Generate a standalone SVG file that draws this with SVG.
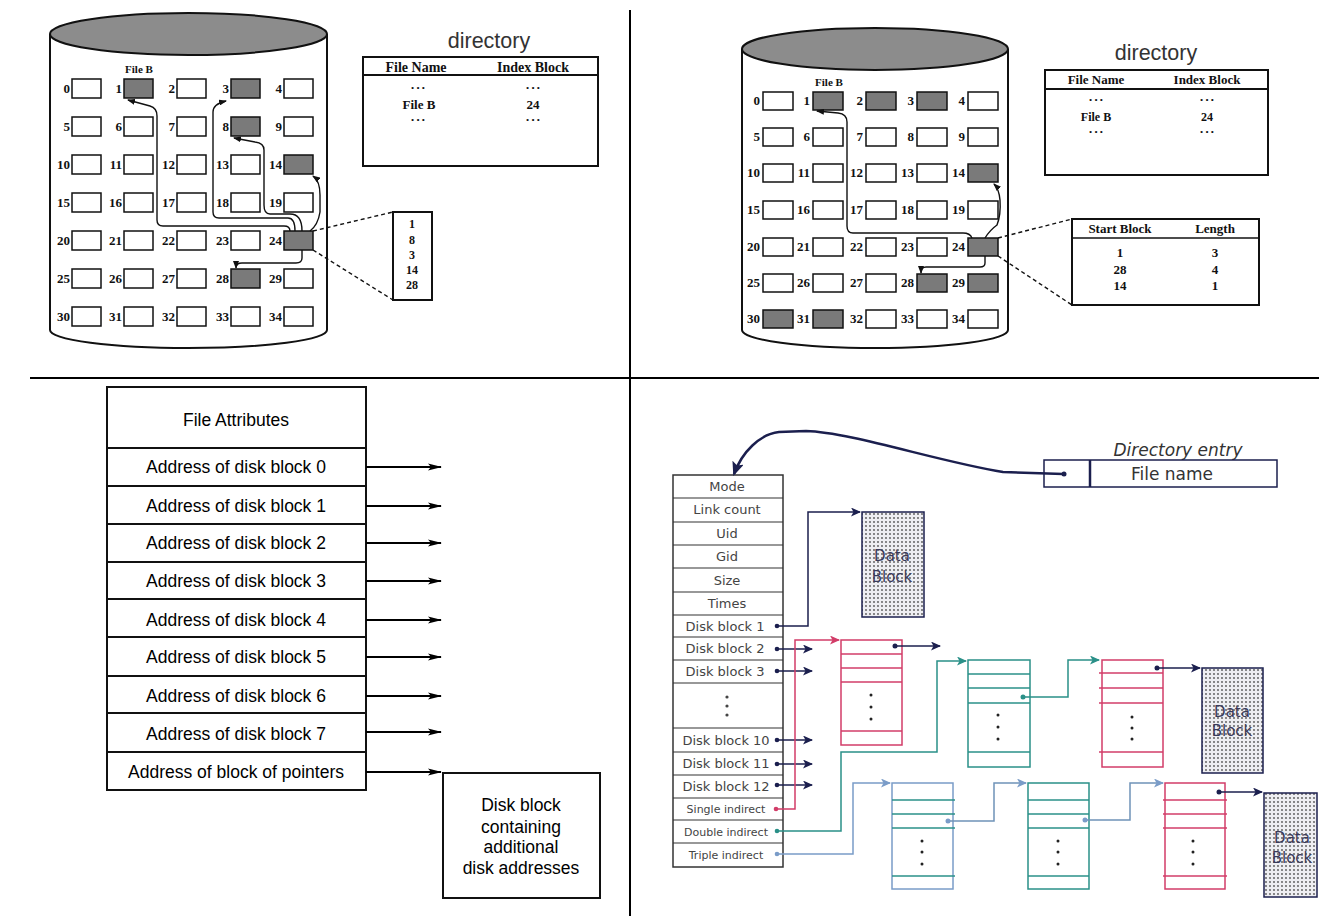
<svg xmlns="http://www.w3.org/2000/svg" width="1319" height="916" viewBox="0 0 1319 916">
<style>
.blk{fill:#fff;stroke:#111;stroke-width:1.5}
.f{fill:#7a7a7a}
.num{font-family:"Liberation Serif",serif;font-weight:bold;font-size:13px;text-anchor:end;fill:#111}
.tb{font-family:"Liberation Serif",serif;font-weight:bold;font-size:14px;text-anchor:middle;fill:#111}
.dots{font-family:"Liberation Serif",serif;font-size:9px;text-anchor:middle;fill:#111}
.dir{font-family:"Liberation Sans",sans-serif;font-size:21.5px;text-anchor:middle;fill:#333}
.ln{fill:none;stroke:#111;stroke-width:1.4}
.dash{fill:none;stroke:#111;stroke-width:1.4;stroke-dasharray:4 3}
.frame{fill:none;stroke:#111;stroke-width:2}
.bl{font-family:"Liberation Sans",sans-serif;font-size:17.5px;text-anchor:middle;fill:#000}
.in{font-family:"DejaVu Sans",sans-serif;font-size:13px;text-anchor:middle;fill:#444}
.ins{font-family:"DejaVu Sans",sans-serif;font-size:11px;text-anchor:middle;fill:#444}
.dt{font-family:"DejaVu Sans",sans-serif;font-size:15px;text-anchor:middle;fill:#3a3a5a}
.nv{fill:none;stroke:#1b1f4e;stroke-width:1.5}
.rd{fill:none;stroke:#d23c68;stroke-width:1.5}
.tl{fill:none;stroke:#2a9088;stroke-width:1.5}
.lb{fill:none;stroke:#7a9cc8;stroke-width:1.5}
.lbt{fill:none;stroke:#6f93b8;stroke-width:1.5}
</style>
<defs>
<marker id="ab" markerUnits="userSpaceOnUse" markerWidth="8" markerHeight="6" refX="7" refY="3" orient="auto"><path d="M0,0 L8,3 L0,6 z" fill="#111"/></marker>
<marker id="abl" markerUnits="userSpaceOnUse" markerWidth="14" markerHeight="8" refX="13" refY="4" orient="auto"><path d="M0,0.5 L14,4 L0,7.5 L3,4 z" fill="#000"/></marker>
<marker id="anv" markerUnits="userSpaceOnUse" markerWidth="10" markerHeight="9" refX="9" refY="4.5" orient="auto"><path d="M0,0 L10,4.5 L0,9 L2.5,4.5 z" fill="#1b1f4e"/></marker>
<marker id="anvb" markerUnits="userSpaceOnUse" markerWidth="14" markerHeight="12" refX="12" refY="6" orient="auto"><path d="M0,0 L14,6 L0,12 L3,6 z" fill="#1b1f4e"/></marker>
<marker id="ard" markerUnits="userSpaceOnUse" markerWidth="10" markerHeight="9" refX="9" refY="4.5" orient="auto"><path d="M0,0 L10,4.5 L0,9 L2.5,4.5 z" fill="#d23c68"/></marker>
<marker id="atl" markerUnits="userSpaceOnUse" markerWidth="10" markerHeight="9" refX="9" refY="4.5" orient="auto"><path d="M0,0 L10,4.5 L0,9 L2.5,4.5 z" fill="#2a9088"/></marker>
<marker id="alb" markerUnits="userSpaceOnUse" markerWidth="10" markerHeight="9" refX="9" refY="4.5" orient="auto"><path d="M0,0 L10,4.5 L0,9 L2.5,4.5 z" fill="#7a9cc8"/></marker>
<pattern id="dotp" width="4" height="4" patternUnits="userSpaceOnUse"><rect width="4" height="4" fill="#eeeef2"/><circle cx="2" cy="2" r="0.9" fill="#555"/></pattern>
</defs>

<g id="dividers">
<line x1="630" y1="10" x2="630" y2="916" stroke="#000" stroke-width="2"/>
<line x1="30" y1="378" x2="1319" y2="378" stroke="#000" stroke-width="2"/>
</g>

<!-- TOP LEFT: indexed allocation -->
<g id="disk1">
<path d="M50,34 L50,330 A138.5,18 0 0 0 327,330 L327,34" fill="#fff" stroke="#111" stroke-width="2"/>
<ellipse cx="188.5" cy="34" rx="138.5" ry="21" fill="#8c8c8c" stroke="#111" stroke-width="2"/>
<text x="139" y="73" style="font-family:'Liberation Serif',serif;font-weight:bold;font-size:11px;text-anchor:middle;fill:#111">File B</text>
<g>
<rect class="blk" x="72" y="79" width="29" height="19"/><rect class="blk f" x="124" y="79" width="29" height="19"/><rect class="blk" x="177" y="79" width="29" height="19"/><rect class="blk f" x="231" y="79" width="29" height="19"/><rect class="blk" x="284" y="79" width="29" height="19"/>
<rect class="blk" x="72" y="117" width="29" height="19"/><rect class="blk" x="124" y="117" width="29" height="19"/><rect class="blk" x="177" y="117" width="29" height="19"/><rect class="blk f" x="231" y="117" width="29" height="19"/><rect class="blk" x="284" y="117" width="29" height="19"/>
<rect class="blk" x="72" y="155" width="29" height="19"/><rect class="blk" x="124" y="155" width="29" height="19"/><rect class="blk" x="177" y="155" width="29" height="19"/><rect class="blk" x="231" y="155" width="29" height="19"/><rect class="blk f" x="284" y="155" width="29" height="19"/>
<rect class="blk" x="72" y="193" width="29" height="19"/><rect class="blk" x="124" y="193" width="29" height="19"/><rect class="blk" x="177" y="193" width="29" height="19"/><rect class="blk" x="231" y="193" width="29" height="19"/><rect class="blk" x="284" y="193" width="29" height="19"/>
<rect class="blk" x="72" y="231" width="29" height="19"/><rect class="blk" x="124" y="231" width="29" height="19"/><rect class="blk" x="177" y="231" width="29" height="19"/><rect class="blk" x="231" y="231" width="29" height="19"/><rect class="blk f" x="284" y="231" width="29" height="19"/>
<rect class="blk" x="72" y="269" width="29" height="19"/><rect class="blk" x="124" y="269" width="29" height="19"/><rect class="blk" x="177" y="269" width="29" height="19"/><rect class="blk f" x="231" y="269" width="29" height="19"/><rect class="blk" x="284" y="269" width="29" height="19"/>
<rect class="blk" x="72" y="307" width="29" height="19"/><rect class="blk" x="124" y="307" width="29" height="19"/><rect class="blk" x="177" y="307" width="29" height="19"/><rect class="blk" x="231" y="307" width="29" height="19"/><rect class="blk" x="284" y="307" width="29" height="19"/>
</g>
<g class="num">
<text x="70" y="93">0</text><text x="122" y="93">1</text><text x="175" y="93">2</text><text x="229" y="93">3</text><text x="282" y="93">4</text>
<text x="70" y="131">5</text><text x="122" y="131">6</text><text x="175" y="131">7</text><text x="229" y="131">8</text><text x="282" y="131">9</text>
<text x="70" y="169">10</text><text x="122" y="169">11</text><text x="175" y="169">12</text><text x="229" y="169">13</text><text x="282" y="169">14</text>
<text x="70" y="207">15</text><text x="122" y="207">16</text><text x="175" y="207">17</text><text x="229" y="207">18</text><text x="282" y="207">19</text>
<text x="70" y="245">20</text><text x="122" y="245">21</text><text x="175" y="245">22</text><text x="229" y="245">23</text><text x="282" y="245">24</text>
<text x="70" y="283">25</text><text x="122" y="283">26</text><text x="175" y="283">27</text><text x="229" y="283">28</text><text x="282" y="283">29</text>
<text x="70" y="321">30</text><text x="122" y="321">31</text><text x="175" y="321">32</text><text x="229" y="321">33</text><text x="282" y="321">34</text>
</g>
</g>
<g id="dir1">
<text class="dir" x="489" y="48">directory</text>
<rect class="frame" x="363" y="57" width="235" height="109"/>
<line x1="363" y1="75" x2="598" y2="75" stroke="#111" stroke-width="2"/>
<text class="tb" x="416" y="72">File Name</text><text class="tb" x="533" y="72">Index Block</text>
<text class="dots" x="418" y="91">• • •</text><text class="dots" x="533" y="91">• • •</text>
<text class="tb" x="419" y="109" style="font-size:13px">File B</text><text class="tb" x="533" y="109" style="font-size:13px">24</text>
<text class="dots" x="418" y="123">• • •</text><text class="dots" x="533" y="123">• • •</text>
</g>
<g id="index1">
<rect class="frame" x="393" y="212" width="39" height="88" stroke-width="1.5"/>
<g class="tb" style="font-size:12px">
<text x="412" y="228">1</text><text x="412" y="244">8</text><text x="412" y="259">3</text><text x="412" y="274">14</text><text x="412" y="289">28</text>
</g>
</g>
<g id="conn1">
<path class="ln" marker-end="url(#ab)" d="M290,231 Q290,226 284,226 L163,226 Q157,226 157,220 L157,116 Q157,108 150,106 L128,100"/>
<path class="ln" marker-end="url(#ab)" d="M295,231 Q295,218 288,218 L219,218 Q213,218 213,212 L213,112 Q213,104 226,101"/>
<path class="ln" marker-end="url(#ab)" d="M302,231 Q302,214 290,214 L270,214 Q264,214 264,205 L264,150 Q264,143 255,142 L234,138"/>
<path class="ln" marker-end="url(#ab)" d="M310,231 Q318,225 320,212 L320,195 Q320,181 313,176"/>
<path class="ln" marker-end="url(#ab)" d="M302,250 L302,258 Q302,263 296,263 L242,263 Q236,263 236,268"/>
<path class="dash" d="M313,231 L393,212"/>
<path class="dash" d="M313,250 L393,300"/>
</g>

<!-- TOP RIGHT: contiguous / extents -->
<g id="disk2">
<path d="M742,49 L742,330 A133,18 0 0 0 1008,330 L1008,49" fill="#fff" stroke="#111" stroke-width="2"/>
<ellipse cx="875" cy="49" rx="133" ry="21" fill="#8c8c8c" stroke="#111" stroke-width="2"/>
<text x="829" y="86" style="font-family:'Liberation Serif',serif;font-weight:bold;font-size:11px;text-anchor:middle;fill:#111">File B</text>
<g>
<rect class="blk" x="763" y="92" width="30" height="18"/><rect class="blk f" x="813" y="92" width="30" height="18"/><rect class="blk f" x="866" y="92" width="30" height="18"/><rect class="blk f" x="917" y="92" width="30" height="18"/><rect class="blk" x="968" y="92" width="30" height="18"/>
<rect class="blk" x="763" y="128" width="30" height="18"/><rect class="blk" x="813" y="128" width="30" height="18"/><rect class="blk" x="866" y="128" width="30" height="18"/><rect class="blk" x="917" y="128" width="30" height="18"/><rect class="blk" x="968" y="128" width="30" height="18"/>
<rect class="blk" x="763" y="164" width="30" height="18"/><rect class="blk" x="813" y="164" width="30" height="18"/><rect class="blk" x="866" y="164" width="30" height="18"/><rect class="blk" x="917" y="164" width="30" height="18"/><rect class="blk f" x="968" y="164" width="30" height="18"/>
<rect class="blk" x="763" y="201" width="30" height="18"/><rect class="blk" x="813" y="201" width="30" height="18"/><rect class="blk" x="866" y="201" width="30" height="18"/><rect class="blk" x="917" y="201" width="30" height="18"/><rect class="blk" x="968" y="201" width="30" height="18"/>
<rect class="blk" x="763" y="238" width="30" height="18"/><rect class="blk" x="813" y="238" width="30" height="18"/><rect class="blk" x="866" y="238" width="30" height="18"/><rect class="blk" x="917" y="238" width="30" height="18"/><rect class="blk f" x="968" y="238" width="30" height="18"/>
<rect class="blk" x="763" y="274" width="30" height="18"/><rect class="blk" x="813" y="274" width="30" height="18"/><rect class="blk" x="866" y="274" width="30" height="18"/><rect class="blk f" x="917" y="274" width="30" height="18"/><rect class="blk f" x="968" y="274" width="30" height="18"/>
<rect class="blk f" x="763" y="310" width="30" height="18"/><rect class="blk f" x="813" y="310" width="30" height="18"/><rect class="blk" x="866" y="310" width="30" height="18"/><rect class="blk" x="917" y="310" width="30" height="18"/><rect class="blk" x="968" y="310" width="30" height="18"/>
</g>
<g class="num">
<text x="760" y="105">0</text><text x="810" y="105">1</text><text x="863" y="105">2</text><text x="914" y="105">3</text><text x="965" y="105">4</text>
<text x="760" y="141">5</text><text x="810" y="141">6</text><text x="863" y="141">7</text><text x="914" y="141">8</text><text x="965" y="141">9</text>
<text x="760" y="177">10</text><text x="810" y="177">11</text><text x="863" y="177">12</text><text x="914" y="177">13</text><text x="965" y="177">14</text>
<text x="760" y="214">15</text><text x="810" y="214">16</text><text x="863" y="214">17</text><text x="914" y="214">18</text><text x="965" y="214">19</text>
<text x="760" y="251">20</text><text x="810" y="251">21</text><text x="863" y="251">22</text><text x="914" y="251">23</text><text x="965" y="251">24</text>
<text x="760" y="287">25</text><text x="810" y="287">26</text><text x="863" y="287">27</text><text x="914" y="287">28</text><text x="965" y="287">29</text>
<text x="760" y="323">30</text><text x="810" y="323">31</text><text x="863" y="323">32</text><text x="914" y="323">33</text><text x="965" y="323">34</text>
</g>
</g>
<g id="dir2">
<text class="dir" x="1156" y="60">directory</text>
<rect class="frame" x="1045" y="70" width="223" height="105"/>
<line x1="1045" y1="89" x2="1268" y2="89" stroke="#111" stroke-width="2"/>
<text class="tb" x="1096" y="84" style="font-size:13px">File Name</text><text class="tb" x="1207" y="84" style="font-size:13px">Index Block</text>
<text class="dots" x="1096" y="103">• • •</text><text class="dots" x="1207" y="103">• • •</text>
<text class="tb" x="1096" y="121" style="font-size:12px">File B</text><text class="tb" x="1207" y="121" style="font-size:12px">24</text>
<text class="dots" x="1096" y="135">• • •</text><text class="dots" x="1207" y="135">• • •</text>
</g>
<g id="extents">
<rect class="frame" x="1072" y="219" width="187" height="86"/>
<line x1="1072" y1="238" x2="1259" y2="238" stroke="#111" stroke-width="1.5"/>
<g class="tb" style="font-size:13px">
<text x="1120" y="233">Start Block</text><text x="1215" y="233">Length</text>
<text x="1120" y="257">1</text><text x="1215" y="257">3</text>
<text x="1120" y="274">28</text><text x="1215" y="274">4</text>
<text x="1120" y="290">14</text><text x="1215" y="290">1</text>
</g>
</g>
<g id="conn2">
<path class="ln" marker-end="url(#ab)" d="M972,238 Q970,233 963,233 L853,233 Q847,233 847,226 L847,122 Q847,114 838,113 L817,111"/>
<path class="ln" marker-end="url(#ab)" d="M985,238 Q990,230 997,225 Q1001,215 1000,200 Q999,189 994,184"/>
<path class="ln" marker-end="url(#ab)" d="M985,256 L985,263 Q985,267 980,267 L926,267 Q921,267 921,273"/>
<path class="dash" d="M998,238 L1072,219"/>
<path class="dash" d="M998,256 L1072,305"/>
</g>

<!-- BOTTOM LEFT: i-node with pointers -->
<g id="inode1">
<rect x="107" y="387" width="259" height="403" fill="#fff" stroke="#111" stroke-width="2"/>
<g stroke="#111" stroke-width="2">
<line x1="107" y1="448" x2="366" y2="448"/><line x1="107" y1="486" x2="366" y2="486"/><line x1="107" y1="524" x2="366" y2="524"/><line x1="107" y1="562" x2="366" y2="562"/><line x1="107" y1="599" x2="366" y2="599"/><line x1="107" y1="637" x2="366" y2="637"/><line x1="107" y1="676" x2="366" y2="676"/><line x1="107" y1="713" x2="366" y2="713"/><line x1="107" y1="752" x2="366" y2="752"/>
</g>
<g class="bl">
<text x="236" y="426">File Attributes</text>
<text x="236" y="473">Address of disk block 0</text>
<text x="236" y="512">Address of disk block 1</text>
<text x="236" y="549">Address of disk block 2</text>
<text x="236" y="587">Address of disk block 3</text>
<text x="236" y="626">Address of disk block 4</text>
<text x="236" y="663">Address of disk block 5</text>
<text x="236" y="702">Address of disk block 6</text>
<text x="236" y="740">Address of disk block 7</text>
<text x="236" y="778">Address of block of pointers</text>
</g>
</g>
<g id="ptrblock">
<rect x="443" y="773" width="157" height="125" fill="#fff" stroke="#111" stroke-width="2"/>
<g class="bl">
<text x="521" y="811">Disk block</text>
<text x="521" y="833">containing</text>
<text x="521" y="853">additional</text>
<text x="521" y="874">disk addresses</text>
</g>
</g>
<g id="conn3" stroke="#000" stroke-width="1.8" fill="none">
<line x1="366" y1="467" x2="441" y2="467" marker-end="url(#abl)"/>
<line x1="366" y1="506" x2="441" y2="506" marker-end="url(#abl)"/>
<line x1="366" y1="543" x2="441" y2="543" marker-end="url(#abl)"/>
<line x1="366" y1="581" x2="441" y2="581" marker-end="url(#abl)"/>
<line x1="366" y1="620" x2="441" y2="620" marker-end="url(#abl)"/>
<line x1="366" y1="657" x2="441" y2="657" marker-end="url(#abl)"/>
<line x1="366" y1="696" x2="441" y2="696" marker-end="url(#abl)"/>
<line x1="366" y1="732" x2="441" y2="732" marker-end="url(#abl)"/>
<line x1="366" y1="772" x2="441" y2="772" marker-end="url(#abl)"/>
</g>

<!-- BOTTOM RIGHT: UNIX inode -->
<g id="direntry">
<text x="1178" y="456" style="font-family:'DejaVu Sans',sans-serif;font-style:italic;font-size:17px;text-anchor:middle;fill:#333">Directory entry</text>
<rect x="1044" y="460" width="233" height="27" fill="#fff" stroke="#1b1f4e" stroke-width="1.5"/>
<line x1="1090" y1="460" x2="1090" y2="487" stroke="#1b1f4e" stroke-width="2.5"/>
<text x="1172" y="480" style="font-family:'DejaVu Sans',sans-serif;font-size:17px;text-anchor:middle;fill:#333">File name</text>
</g>
<g id="inode2">
<rect x="673" y="475" width="110" height="392" fill="#fff" stroke="#333" stroke-width="1.5"/>
<g stroke="#333" stroke-width="1.2">
<line x1="673" y1="498" x2="783" y2="498"/><line x1="673" y1="522" x2="783" y2="522"/><line x1="673" y1="545" x2="783" y2="545"/><line x1="673" y1="568" x2="783" y2="568"/><line x1="673" y1="592" x2="783" y2="592"/><line x1="673" y1="615" x2="783" y2="615"/><line x1="673" y1="637" x2="783" y2="637"/><line x1="673" y1="660" x2="783" y2="660"/><line x1="673" y1="683" x2="783" y2="683"/><line x1="673" y1="728" x2="783" y2="728"/><line x1="673" y1="752" x2="783" y2="752"/><line x1="673" y1="775" x2="783" y2="775"/><line x1="673" y1="798" x2="783" y2="798"/><line x1="673" y1="820" x2="783" y2="820"/><line x1="673" y1="843" x2="783" y2="843"/>
</g>
<g class="in">
<text x="727" y="491">Mode</text>
<text x="727" y="514">Link count</text>
<text x="727" y="538">Uid</text>
<text x="727" y="561">Gid</text>
<text x="727" y="585">Size</text>
<text x="727" y="608">Times</text>
<text x="725" y="631">Disk block 1</text>
<text x="725" y="653">Disk block 2</text>
<text x="725" y="676">Disk block 3</text>
<text x="726" y="745">Disk block 10</text>
<text x="726" y="768">Disk block 11</text>
<text x="726" y="791">Disk block 12</text>
</g>
<g class="ins">
<text x="726" y="813">Single indirect</text>
<text x="726" y="836">Double indirect</text>
<text x="726" y="859">Triple indirect</text>
</g>
<g fill="#444"><circle cx="727" cy="697" r="1.6"/><circle cx="727" cy="706" r="1.6"/><circle cx="727" cy="715" r="1.6"/></g>
</g>
<g id="data1">
<rect x="862" y="512" width="62" height="105" fill="url(#dotp)" stroke="#1b1f4e" stroke-width="1.5"/>
<text class="dt" x="892" y="561">Data</text><text class="dt" x="892" y="582">Block</text>
</g>
<g id="single1">
<rect x="841" y="640" width="61" height="105" fill="#fff" stroke="#d23c68" stroke-width="1.5"/>
<g stroke="#d23c68" stroke-width="1.3"><line x1="841" y1="654" x2="902" y2="654"/><line x1="841" y1="668" x2="902" y2="668"/><line x1="841" y1="682" x2="902" y2="682"/><line x1="841" y1="731" x2="902" y2="731"/></g>
<g fill="#222"><circle cx="871" cy="695" r="1.5"/><circle cx="871" cy="707" r="1.5"/><circle cx="871" cy="719" r="1.5"/></g>
</g>
<g id="double1">
<rect x="968" y="660" width="62" height="107" fill="#fff" stroke="#2a9088" stroke-width="1.5"/>
<g stroke="#2a9088" stroke-width="1.3"><line x1="968" y1="674" x2="1030" y2="674"/><line x1="968" y1="688" x2="1030" y2="688"/><line x1="968" y1="703" x2="1030" y2="703"/><line x1="968" y1="752" x2="1030" y2="752"/></g>
<g fill="#222"><circle cx="998" cy="715" r="1.5"/><circle cx="998" cy="727" r="1.5"/><circle cx="998" cy="739" r="1.5"/></g>
</g>
<g id="double2">
<rect x="1102" y="660" width="61" height="107" fill="#fff" stroke="#d23c68" stroke-width="1.5"/>
<g stroke="#d23c68" stroke-width="1.3"><line x1="1099" y1="673" x2="1163" y2="673"/><line x1="1099" y1="688" x2="1163" y2="688"/><line x1="1099" y1="703" x2="1163" y2="703"/><line x1="1099" y1="752" x2="1163" y2="752"/></g>
<g fill="#222"><circle cx="1132" cy="717" r="1.5"/><circle cx="1132" cy="728" r="1.5"/><circle cx="1132" cy="739" r="1.5"/></g>
</g>
<g id="data2">
<rect x="1202" y="668" width="61" height="105" fill="url(#dotp)" stroke="#1b1f4e" stroke-width="1.5"/>
<text class="dt" x="1232" y="717">Data</text><text class="dt" x="1232" y="736">Block</text>
</g>
<g id="triple1">
<rect x="892" y="783" width="61" height="106" fill="#fff" stroke="#7a9cc8" stroke-width="1.5"/>
<g stroke="#2a9088" stroke-width="1.3"><line x1="892" y1="800" x2="955" y2="800"/><line x1="892" y1="814" x2="955" y2="814"/><line x1="892" y1="828" x2="955" y2="828"/><line x1="892" y1="876" x2="955" y2="876"/></g>
<g fill="#222"><circle cx="922" cy="841" r="1.5"/><circle cx="922" cy="852" r="1.5"/><circle cx="922" cy="864" r="1.5"/></g>
</g>
<g id="triple2">
<rect x="1028" y="783" width="61" height="106" fill="#fff" stroke="#2a9088" stroke-width="1.5"/>
<g stroke="#2a9088" stroke-width="1.3"><line x1="1028" y1="800" x2="1089" y2="800"/><line x1="1028" y1="814" x2="1089" y2="814"/><line x1="1028" y1="828" x2="1089" y2="828"/><line x1="1028" y1="876" x2="1089" y2="876"/></g>
<g fill="#222"><circle cx="1058" cy="841" r="1.5"/><circle cx="1058" cy="852" r="1.5"/><circle cx="1058" cy="864" r="1.5"/></g>
</g>
<g id="triple3">
<rect x="1165" y="783" width="60" height="106" fill="#fff" stroke="#d23c68" stroke-width="1.5"/>
<g stroke="#d23c68" stroke-width="1.3"><line x1="1163" y1="800" x2="1227" y2="800"/><line x1="1163" y1="814" x2="1227" y2="814"/><line x1="1163" y1="828" x2="1227" y2="828"/><line x1="1163" y1="876" x2="1227" y2="876"/></g>
<g fill="#222"><circle cx="1193" cy="841" r="1.5"/><circle cx="1193" cy="852" r="1.5"/><circle cx="1193" cy="864" r="1.5"/></g>
</g>
<g id="data3">
<rect x="1264" y="793" width="53" height="104" fill="url(#dotp)" stroke="#1b1f4e" stroke-width="1.5"/>
<text class="dt" x="1292" y="843">Data</text><text class="dt" x="1292" y="863">Block</text>
</g>
<g id="conn4">
<path d="M1063,474 L1003,472 C940,462 850,432 806,431 L779,432 C760,434 742,452 734,474" fill="none" stroke="#1b1f4e" stroke-width="2.5" marker-end="url(#anvb)"/>
<circle cx="1064" cy="474" r="2.5" fill="#1b1f4e"/>
<path class="nv" d="M777,626 L808,626 L808,512 L860,512" marker-end="url(#anv)"/>
<path class="nv" d="M777,649 L812,649" marker-end="url(#anv)"/>
<path class="nv" d="M777,671 L812,671" marker-end="url(#anv)"/>
<path class="nv" d="M777,740 L812,740" marker-end="url(#anv)"/>
<path class="nv" d="M777,764 L812,764" marker-end="url(#anv)"/>
<path class="nv" d="M777,785 L812,785" marker-end="url(#anv)"/>
<g fill="#1b1f4e"><circle cx="777" cy="626" r="2.3"/><circle cx="777" cy="649" r="2.3"/><circle cx="777" cy="671" r="2.3"/><circle cx="777" cy="740" r="2.3"/><circle cx="777" cy="764" r="2.3"/><circle cx="777" cy="785" r="2.3"/></g>
<path class="rd" d="M777,809 L795,809 L795,640 L839,640" marker-end="url(#ard)"/>
<circle cx="776" cy="809" r="2.3" fill="#d23c68"/>
<path class="tl" d="M777,831 L841,831 L841,752 L937,752 L937,661 L966,661" marker-end="url(#atl)"/>
<circle cx="777" cy="831" r="2.3" fill="#2a9088"/>
<path class="lb" d="M777,854 L853,854 L853,783 L890,783" marker-end="url(#alb)"/>
<circle cx="777" cy="854" r="2.3" fill="#7a9cc8"/>
<path class="nv" d="M895,646 L940,646" marker-end="url(#anv)"/>
<circle cx="895" cy="646" r="2.5" fill="#1b1f4e"/>
<path class="tl" d="M1023,697 L1068,697 L1068,660 L1099,660" marker-end="url(#atl)"/>
<circle cx="1023" cy="697" r="2.5" fill="#2a9088"/>
<path class="nv" d="M1157,668 L1200,668" marker-end="url(#anv)"/>
<circle cx="1157" cy="668" r="2.5" fill="#1b1f4e"/>
<path class="lbt" d="M948,821 L994,821 L994,783 L1026,783" marker-end="url(#alb)"/>
<circle cx="948" cy="821" r="2.5" fill="#7a9cc8"/>
<path class="lbt" d="M1085,820 L1130,820 L1130,783 L1163,783" marker-end="url(#alb)"/>
<circle cx="1085" cy="820" r="2.5" fill="#7a9cc8"/>
<path class="nv" d="M1219,792 L1262,792" marker-end="url(#anv)"/>
<circle cx="1219" cy="792" r="2.5" fill="#1b1f4e"/>
</g>
</svg>
